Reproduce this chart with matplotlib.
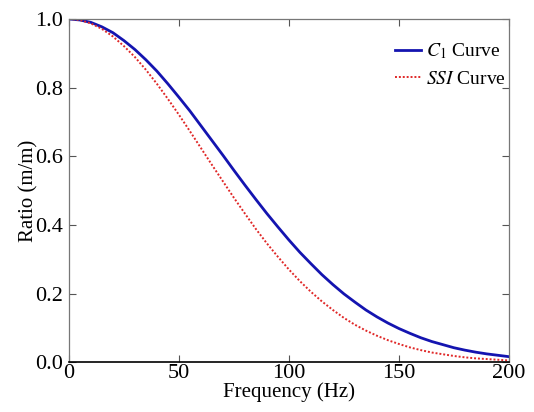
import numpy as np
import matplotlib
matplotlib.use("Agg")
from matplotlib import pyplot as plt

# values (every 5 Hz)
freq = [0, 5, 10, 15, 20, 25, 30, 35, 40, 45, 50, 55, 60, 65, 70, 75, 80, 85, 90, 95, 100,
        105, 110, 115, 120, 125, 130, 135, 140, 145, 150, 155, 160, 165, 170, 175, 180,
        185, 190, 195, 200]
c1_curve = [1.000, 0.997, 0.990, 0.977, 0.960, 0.937, 0.911, 0.881, 0.848, 0.811, 0.772,
            0.732, 0.689, 0.646, 0.603, 0.559, 0.516, 0.474, 0.433, 0.394, 0.356,
            0.320, 0.287, 0.255, 0.226, 0.199, 0.175, 0.152, 0.132, 0.114, 0.098,
            0.084, 0.071, 0.060, 0.051, 0.042, 0.035, 0.029, 0.024, 0.020, 0.016]
ssi_curve = [1.000, 0.997, 0.987, 0.971, 0.949, 0.921, 0.889, 0.852, 0.811, 0.767, 0.721,
             0.673, 0.624, 0.575, 0.527, 0.479, 0.433, 0.388, 0.346, 0.307, 0.270,
             0.236, 0.205, 0.177, 0.152, 0.129, 0.109, 0.092, 0.077, 0.064, 0.053,
             0.043, 0.035, 0.028, 0.023, 0.018, 0.014, 0.011, 0.009, 0.007, 0.005]
xticks = [0, 50, 100, 150, 200]
yticks = [0.0, 0.2, 0.4, 0.6, 0.8, 1.0]

plt.rcParams['font.family'] = ['Liberation Serif', 'DejaVu Serif']
plt.rcParams['mathtext.fontset'] = 'stix'

fig = plt.figure(figsize=(5.34, 4.12), dpi=100)
ax = fig.add_axes([0.129, 0.121, 0.824, 0.833])

ax.plot(freq, c1_curve, color='#1414b0', lw=2.0, label=r'$C_\mathit{1}$ Curve')
ax.plot(freq, ssi_curve, color='#e02828', lw=1.4, ls=(0, (1, 1)), label=r'$\mathit{SSI}$ Curve')

ax.set_xlim(0, 200)
ax.set_ylim(0, 1.0)
ax.set_xticks(xticks)
ax.set_yticks(yticks)
ax.set_yticklabels([f'{v:.1f}' for v in yticks])
ax.tick_params(direction='in', top=True, right=True, length=5, width=0.8,
               color='#555555', labelsize=16)
ax.tick_params(axis='x', pad=1.5)
ax.tick_params(axis='y', pad=4)

for side in ['left', 'top', 'right']:
    ax.spines[side].set_color('#777777')
    ax.spines[side].set_linewidth(0.9)
ax.spines['bottom'].set_color('black')
ax.spines['bottom'].set_linewidth(1.2)

ax.set_xlabel('Frequency (Hz)', fontsize=15, labelpad=-1)
ax.set_ylabel('Ratio (m/m)', fontsize=15, labelpad=-2)

ax.legend(loc='upper right', frameon=False, fontsize=14, handlelength=1.3,
          handletextpad=0.3, labelspacing=0.45, borderaxespad=0.5,
          bbox_to_anchor=(1.034, 0.985))

fig.savefig('out.png', dpi=100)
